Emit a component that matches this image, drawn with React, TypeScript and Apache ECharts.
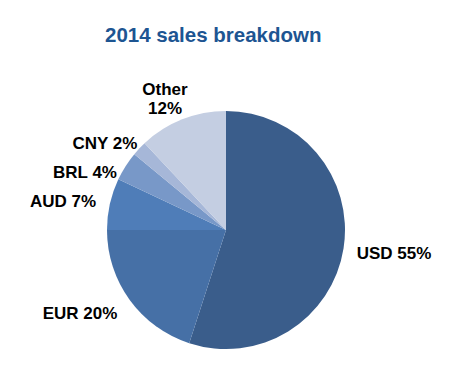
import React, { useEffect, useRef } from "react";
import * as echarts from "echarts";

const categories = ["USD", "EUR", "AUD", "BRL", "CNY", "Other"];
const shares = [55, 20, 7, 4, 2, 12];
const sliceColors = ["#3a5d8b", "#4670a6", "#4f7db8", "#7898c8", "#a6b7d8", "#c4cee2"];
const labelSpots: [number, number][] = [
  [394, 253],
  [80, 313],
  [63, 201],
  [85, 172],
  [105, 143],
  [165, 99],
];

export default function App() {
  const ref = useRef<HTMLDivElement>(null);
  useEffect(() => {
    document.body.style.margin = "0";
    const chart = echarts.init(ref.current!, null, { renderer: "svg" });
    chart.setOption({
      animation: false,
      backgroundColor: "#ffffff",
      title: {
        text: "2014 sales breakdown",
        left: 105,
        top: 24,
        padding: 0,
        textStyle: {
          fontFamily: "Liberation Sans, Arial, sans-serif",
          fontSize: 20.5,
          fontWeight: "bold",
          color: "#1d5592",
        },
      },
      series: [
        {
          type: "pie",
          center: [226, 230],
          radius: 119,
          startAngle: 90,
          clockwise: true,
          avoidLabelOverlap: false,
          labelLine: { show: false },
          itemStyle: { borderWidth: 0 },
          emphasis: { disabled: true },
          label: {
            show: true,
            position: "outside",
            color: "#000000",
            fontFamily: "Liberation Sans, Arial, sans-serif",
            fontSize: 17,
            fontWeight: "bold",
            lineHeight: 19,
            align: "center",
            formatter: (p: any) =>
              p.name === "Other" ? `${p.name}\n${p.value}%` : `${p.name} ${p.value}%`,
          },
          labelLayout: (params: any) => {
            const s = labelSpots[params.dataIndex];
            return { x: s[0], y: s[1], align: "center", verticalAlign: "middle" };
          },
          data: categories.map((c, i) => ({
            name: c,
            value: shares[i],
            itemStyle: { color: sliceColors[i] },
          })),
        },
      ],
    });
    return () => chart.dispose();
  }, []);
  return <div ref={ref} style={{ width: 460, height: 374 }} />;
}
